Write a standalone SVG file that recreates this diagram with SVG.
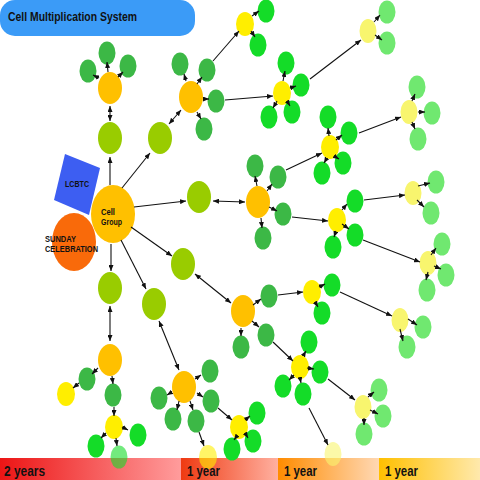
<svg xmlns="http://www.w3.org/2000/svg" width="480" height="480" viewBox="0 0 480 480">
<style>
.t{font-family:"Liberation Sans",Arial,sans-serif;font-weight:bold;fill:#111}
.cg{fill:#ffc000}
.sun{fill:#f96a0a}
.lc{fill:#3d5ef2}
.a{fill:#99cc00}
.b{fill:#ffc000}
.g1{fill:#3cb846}
.y{fill:#ffee00}
.g2{fill:#14dc28}
.d{fill:#f8f56e}
.g3{fill:#70e870}
.fade{opacity:.6}
#connectors line{stroke:#111;stroke-width:1.1;marker-end:url(#ah)}
#connectors line.bi{marker-start:url(#ahs)}
</style>
<defs>
<marker id="ah" markerUnits="userSpaceOnUse" markerWidth="6" markerHeight="5" refX="6" refY="2.5" orient="auto"><path d="M0,0L6,2.5L0,5z" fill="#111"/></marker>
<marker id="ahs" markerUnits="userSpaceOnUse" markerWidth="6" markerHeight="5" refX="6" refY="2.5" orient="auto-start-reverse"><path d="M0,0L6,2.5L0,5z" fill="#111"/></marker>
<linearGradient id="s1" x1="0" x2="1" y1="0" y2="0"><stop offset="0" stop-color="#ec1515"/><stop offset="1" stop-color="#ff9c9c"/></linearGradient>
<linearGradient id="s2" x1="0" x2="1" y1="0" y2="0"><stop offset="0" stop-color="#ef3a12"/><stop offset="1" stop-color="#ffb0a0"/></linearGradient>
<linearGradient id="s3" x1="0" x2="1" y1="0" y2="0"><stop offset="0" stop-color="#ff8c00"/><stop offset="1" stop-color="#ffd8b4"/></linearGradient>
<linearGradient id="s4" x1="0" x2="1" y1="0" y2="0"><stop offset="0" stop-color="#ffc000"/><stop offset="1" stop-color="#ffe9ac"/></linearGradient>
</defs>
<rect width="480" height="480" fill="#fff"/>

<g id="timeline">
<rect x="0" y="458" width="181" height="22" fill="url(#s1)"/>
<rect x="181" y="458" width="97" height="22" fill="url(#s2)"/>
<rect x="278" y="458" width="101" height="22" fill="url(#s3)"/>
<rect x="379" y="458" width="101" height="22" fill="url(#s4)"/>
</g>

<g id="title"><rect x="0" y="0" width="195" height="36" rx="15" fill="#3b9bf7"/><text class="t" x="8" y="21" font-size="13" textLength="129" lengthAdjust="spacingAndGlyphs">Cell Multiplication System</text></g>

<g id="lcbtc"><polygon class="lc" points="65,154 100,168 89,215 54,200"/><text class="t" x="65" y="187" font-size="8.5" textLength="24" lengthAdjust="spacingAndGlyphs">LCBTC</text></g>
<g id="cellgroup"><ellipse class="cg" cx="113" cy="214" rx="22" ry="29"/><text class="t" x="101" y="215" font-size="9.5" textLength="14" lengthAdjust="spacingAndGlyphs">Cell</text><text class="t" x="101" y="225" font-size="9.5" textLength="21" lengthAdjust="spacingAndGlyphs">Group</text></g>
<g id="sunday"><ellipse class="sun" cx="74" cy="242" rx="22" ry="29"/><text class="t" x="45" y="241.5" font-size="8.5" textLength="31" lengthAdjust="spacingAndGlyphs">SUNDAY</text><text class="t" x="45" y="251.5" font-size="8.5" textLength="53" lengthAdjust="spacingAndGlyphs">CELEBRATION</text></g>

<g id="a1"><ellipse class="a" cx="110" cy="138" rx="12" ry="16"/></g>
<g id="a2"><ellipse class="a" cx="160" cy="138" rx="12" ry="16"/></g>
<g id="a3"><ellipse class="a" cx="199" cy="197" rx="12" ry="16"/></g>
<g id="a4"><ellipse class="a" cx="183" cy="264" rx="12" ry="16"/></g>
<g id="a5"><ellipse class="a" cx="110" cy="288" rx="12" ry="16"/></g>
<g id="a6"><ellipse class="a" cx="154" cy="304" rx="12" ry="16"/></g>

<g id="b1"><ellipse class="b" cx="110" cy="88" rx="12" ry="16"/></g>
<g id="b2"><ellipse class="b" cx="191" cy="97" rx="12" ry="16"/></g>
<g id="b3"><ellipse class="b" cx="258" cy="202" rx="12" ry="16"/></g>
<g id="b4"><ellipse class="b" cx="243" cy="311" rx="12" ry="16"/></g>
<g id="b5"><ellipse class="b" cx="110" cy="360" rx="12" ry="16"/></g>
<g id="b6"><ellipse class="b" cx="184" cy="387" rx="12" ry="16"/></g>

<g id="b1l1"><ellipse class="g1" cx="107" cy="53" rx="8.5" ry="11.5"/></g>
<g id="b1l2"><ellipse class="g1" cx="88" cy="71" rx="8.5" ry="11.5"/></g>
<g id="b1l3"><ellipse class="g1" cx="128" cy="66" rx="8.5" ry="11.5"/></g>
<g id="b2l1"><ellipse class="g1" cx="180" cy="64" rx="8.5" ry="11.5"/></g>
<g id="b2l2"><ellipse class="g1" cx="207" cy="70" rx="8.5" ry="11.5"/></g>
<g id="b2l3"><ellipse class="g1" cx="216" cy="101" rx="8.5" ry="11.5"/></g>
<g id="b2l4"><ellipse class="g1" cx="204" cy="129" rx="8.5" ry="11.5"/></g>
<g id="b3l1"><ellipse class="g1" cx="255" cy="166" rx="8.5" ry="11.5"/></g>
<g id="b3l2"><ellipse class="g1" cx="278" cy="177" rx="8.5" ry="11.5"/></g>
<g id="b3l3"><ellipse class="g1" cx="283" cy="214" rx="8.5" ry="11.5"/></g>
<g id="b3l4"><ellipse class="g1" cx="263" cy="238" rx="8.5" ry="11.5"/></g>
<g id="b4l1"><ellipse class="g1" cx="269" cy="296" rx="8.5" ry="11.5"/></g>
<g id="b4l2"><ellipse class="g1" cx="266" cy="335" rx="8.5" ry="11.5"/></g>
<g id="b4l3"><ellipse class="g1" cx="241" cy="347" rx="8.5" ry="11.5"/></g>
<g id="b5l1"><ellipse class="g1" cx="87" cy="379" rx="8.5" ry="11.5"/></g>
<g id="b5l2"><ellipse class="g1" cx="113" cy="395" rx="8.5" ry="11.5"/></g>
<g id="b6l1"><ellipse class="g1" cx="210" cy="371" rx="8.5" ry="11.5"/></g>
<g id="b6l2"><ellipse class="g1" cx="211" cy="401" rx="8.5" ry="11.5"/></g>
<g id="b6l3"><ellipse class="g1" cx="196" cy="421" rx="8.5" ry="11.5"/></g>
<g id="b6l4"><ellipse class="g1" cx="173" cy="419" rx="8.5" ry="11.5"/></g>
<g id="b6l5"><ellipse class="g1" cx="159" cy="398" rx="8.5" ry="11.5"/></g>

<g id="y1"><ellipse class="y" cx="245" cy="24" rx="9" ry="12"/></g>
<g id="y2"><ellipse class="y" cx="282" cy="93" rx="9" ry="12"/></g>
<g id="y3"><ellipse class="y" cx="330" cy="147" rx="9" ry="12"/></g>
<g id="y4"><ellipse class="y" cx="337" cy="220" rx="9" ry="12"/></g>
<g id="y5"><ellipse class="y" cx="312" cy="292" rx="9" ry="12"/></g>
<g id="y6"><ellipse class="y" cx="300" cy="367" rx="9" ry="12"/></g>
<g id="y7"><ellipse class="y" cx="66" cy="394" rx="9" ry="12"/></g>
<g id="y8"><ellipse class="y" cx="114" cy="427" rx="9" ry="12"/></g>
<g id="y9"><ellipse class="y" cx="239" cy="427" rx="9" ry="12"/></g>
<g id="y10" class="fade"><ellipse class="y" cx="208" cy="457" rx="9" ry="12"/></g>

<g id="y1l1"><ellipse class="g2" cx="266" cy="11" rx="8.5" ry="11.5"/></g>
<g id="y1l2"><ellipse class="g2" cx="258" cy="45" rx="8.5" ry="11.5"/></g>
<g id="y2l1"><ellipse class="g2" cx="286" cy="63" rx="8.5" ry="11.5"/></g>
<g id="y2l2"><ellipse class="g2" cx="301" cy="85" rx="8.5" ry="11.5"/></g>
<g id="y2l3"><ellipse class="g2" cx="269" cy="117" rx="8.5" ry="11.5"/></g>
<g id="y2l4"><ellipse class="g2" cx="292" cy="112" rx="8.5" ry="11.5"/></g>
<g id="y3l1"><ellipse class="g2" cx="328" cy="117" rx="8.5" ry="11.5"/></g>
<g id="y3l2"><ellipse class="g2" cx="349" cy="133" rx="8.5" ry="11.5"/></g>
<g id="y3l3"><ellipse class="g2" cx="343" cy="163" rx="8.5" ry="11.5"/></g>
<g id="y3l4"><ellipse class="g2" cx="322" cy="173" rx="8.5" ry="11.5"/></g>
<g id="y4l1"><ellipse class="g2" cx="355" cy="201" rx="8.5" ry="11.5"/></g>
<g id="y4l2"><ellipse class="g2" cx="355" cy="235" rx="8.5" ry="11.5"/></g>
<g id="y4l3"><ellipse class="g2" cx="333" cy="247" rx="8.5" ry="11.5"/></g>
<g id="y5l1"><ellipse class="g2" cx="332" cy="285" rx="8.5" ry="11.5"/></g>
<g id="y5l2"><ellipse class="g2" cx="322" cy="313" rx="8.5" ry="11.5"/></g>
<g id="y6l1"><ellipse class="g2" cx="309" cy="342" rx="8.5" ry="11.5"/></g>
<g id="y6l2"><ellipse class="g2" cx="320" cy="372" rx="8.5" ry="11.5"/></g>
<g id="y6l3"><ellipse class="g2" cx="283" cy="386" rx="8.5" ry="11.5"/></g>
<g id="y6l4"><ellipse class="g2" cx="303" cy="394" rx="8.5" ry="11.5"/></g>
<g id="y8l1"><ellipse class="g2" cx="96" cy="446" rx="8.5" ry="11.5"/></g>
<g id="y8l2" class="fade"><ellipse class="g2" cx="119" cy="457" rx="8.5" ry="11.5"/></g>
<g id="y8l3"><ellipse class="g2" cx="138" cy="435" rx="8.5" ry="11.5"/></g>
<g id="y9l1"><ellipse class="g2" cx="257" cy="413" rx="8.5" ry="11.5"/></g>
<g id="y9l2"><ellipse class="g2" cx="253" cy="441" rx="8.5" ry="11.5"/></g>
<g id="y9l3"><ellipse class="g2" cx="232" cy="449" rx="8.5" ry="11.5"/></g>

<g id="d1"><ellipse class="d" cx="368" cy="31" rx="8.5" ry="12"/></g>
<g id="d2"><ellipse class="d" cx="409" cy="112" rx="8.5" ry="12"/></g>
<g id="d3"><ellipse class="d" cx="413" cy="193" rx="8.5" ry="12"/></g>
<g id="d4"><ellipse class="d" cx="428" cy="263" rx="8.5" ry="12"/></g>
<g id="d5"><ellipse class="d" cx="400" cy="320" rx="8.5" ry="12"/></g>
<g id="d6"><ellipse class="d" cx="363" cy="407" rx="8.5" ry="12"/></g>
<g id="d7" class="fade"><ellipse class="d" cx="333" cy="454" rx="8.5" ry="12"/></g>

<g id="d1l1"><ellipse class="g3" cx="387" cy="12" rx="8.5" ry="11.5"/></g>
<g id="d1l2"><ellipse class="g3" cx="387" cy="43" rx="8.5" ry="11.5"/></g>
<g id="d2l1"><ellipse class="g3" cx="417" cy="87" rx="8.5" ry="11.5"/></g>
<g id="d2l2"><ellipse class="g3" cx="432" cy="113" rx="8.5" ry="11.5"/></g>
<g id="d2l3"><ellipse class="g3" cx="418" cy="139" rx="8.5" ry="11.5"/></g>
<g id="d3l1"><ellipse class="g3" cx="436" cy="182" rx="8.5" ry="11.5"/></g>
<g id="d3l2"><ellipse class="g3" cx="431" cy="213" rx="8.5" ry="11.5"/></g>
<g id="d4l1"><ellipse class="g3" cx="442" cy="244" rx="8.5" ry="11.5"/></g>
<g id="d4l2"><ellipse class="g3" cx="446" cy="275" rx="8.5" ry="11.5"/></g>
<g id="d4l3"><ellipse class="g3" cx="427" cy="290" rx="8.5" ry="11.5"/></g>
<g id="d5l1"><ellipse class="g3" cx="423" cy="327" rx="8.5" ry="11.5"/></g>
<g id="d5l2"><ellipse class="g3" cx="407" cy="347" rx="8.5" ry="11.5"/></g>
<g id="d6l1"><ellipse class="g3" cx="379" cy="390" rx="8.5" ry="11.5"/></g>
<g id="d6l2"><ellipse class="g3" cx="383" cy="416" rx="8.5" ry="11.5"/></g>
<g id="d6l3"><ellipse class="g3" cx="364" cy="434" rx="8.5" ry="11.5"/></g>

<g id="connectors">
<line x1="110" y1="185" x2="110" y2="157"/>
<line x1="122" y1="188" x2="150" y2="153"/>
<line x1="134" y1="207" x2="186" y2="201"/>
<line x1="131" y1="227" x2="172" y2="256"/>
<line x1="111" y1="244" x2="111" y2="271"/>
<line x1="121" y1="240" x2="146" y2="289"/>
<line class="bi" x1="110" y1="121" x2="110" y2="106"/>
<line class="bi" x1="169" y1="124" x2="181" y2="110"/>
<line class="bi" x1="213" y1="201" x2="245" y2="202"/>
<line class="bi" x1="195" y1="274" x2="231" y2="303"/>
<line class="bi" x1="110" y1="306" x2="110" y2="341"/>
<line class="bi" x1="159" y1="321" x2="179" y2="370"/>
<line x1="108" y1="72" x2="107" y2="62"/>
<line x1="99" y1="78" x2="93" y2="75"/>
<line x1="118" y1="77" x2="123" y2="72"/>
<line x1="186" y1="81" x2="184" y2="74"/>
<line x1="197" y1="84" x2="202" y2="77"/>
<line x1="203" y1="99" x2="209" y2="99"/>
<line x1="197" y1="112" x2="201" y2="119"/>
<line x1="257" y1="186" x2="255" y2="176"/>
<line x1="267" y1="191" x2="272" y2="184"/>
<line x1="269" y1="207" x2="277" y2="211"/>
<line x1="261" y1="218" x2="262" y2="228"/>
<line x1="253" y1="305" x2="261" y2="299"/>
<line x1="252" y1="321" x2="259" y2="327"/>
<line x1="241" y1="328" x2="241" y2="336"/>
<line x1="98" y1="368" x2="92" y2="374"/>
<line x1="112" y1="376" x2="113" y2="384"/>
<line x1="195" y1="379" x2="201" y2="375"/>
<line x1="197" y1="393" x2="203" y2="397"/>
<line x1="190" y1="401" x2="193" y2="410"/>
<line x1="179" y1="401" x2="177" y2="410"/>
<line x1="172" y1="392" x2="167" y2="395"/>
<line x1="213" y1="61" x2="239" y2="31"/>
<line x1="225" y1="100" x2="273" y2="96"/>
<line x1="286" y1="170" x2="322" y2="153"/>
<line x1="292" y1="217" x2="328" y2="221"/>
<line x1="278" y1="295" x2="303" y2="292"/>
<line x1="273" y1="342" x2="293" y2="361"/>
<line x1="79" y1="383" x2="73" y2="388"/>
<line x1="114" y1="407" x2="114" y2="416"/>
<line x1="218" y1="408" x2="232" y2="420"/>
<line x1="199" y1="432" x2="204" y2="446"/>
<line x1="252" y1="16" x2="259" y2="11"/>
<line x1="251" y1="31" x2="255" y2="37"/>
<line x1="283" y1="81" x2="285" y2="71"/>
<line x1="290" y1="88" x2="296" y2="86"/>
<line x1="277" y1="101" x2="273" y2="108"/>
<line x1="287" y1="101" x2="290" y2="106"/>
<line x1="329" y1="136" x2="328" y2="128"/>
<line x1="336" y1="140" x2="342" y2="135"/>
<line x1="334" y1="156" x2="339" y2="159"/>
<line x1="327" y1="158" x2="324" y2="163"/>
<line x1="342" y1="210" x2="347" y2="204"/>
<line x1="342" y1="224" x2="349" y2="229"/>
<line x1="336" y1="231" x2="334" y2="237"/>
<line x1="319" y1="287" x2="325" y2="284"/>
<line x1="315" y1="302" x2="318" y2="307"/>
<line x1="303" y1="356" x2="306" y2="351"/>
<line x1="307" y1="368" x2="314" y2="369"/>
<line x1="294" y1="375" x2="289" y2="380"/>
<line x1="300" y1="378" x2="301" y2="383"/>
<line x1="106" y1="433" x2="101" y2="438"/>
<line x1="116" y1="438" x2="117" y2="446"/>
<line x1="122" y1="427" x2="128" y2="430"/>
<line x1="245" y1="420" x2="250" y2="416"/>
<line x1="245" y1="433" x2="248" y2="438"/>
<line x1="237" y1="436" x2="234" y2="440"/>
<line x1="310" y1="79" x2="361" y2="40"/>
<line x1="359" y1="133" x2="401" y2="117"/>
<line x1="364" y1="200" x2="405" y2="195"/>
<line x1="363" y1="240" x2="420" y2="262"/>
<line x1="340" y1="292" x2="392" y2="316"/>
<line x1="328" y1="379" x2="355" y2="400"/>
<line x1="309" y1="408" x2="328" y2="445"/>
<line x1="374" y1="22" x2="380" y2="15"/>
<line x1="375" y1="35" x2="382" y2="40"/>
<line x1="412" y1="101" x2="415" y2="94"/>
<line x1="418" y1="112" x2="425" y2="112"/>
<line x1="412" y1="122" x2="415" y2="129"/>
<line x1="418" y1="186" x2="430" y2="183"/>
<line x1="417" y1="200" x2="424" y2="207"/>
<line x1="431" y1="255" x2="436" y2="248"/>
<line x1="434" y1="266" x2="441" y2="269"/>
<line x1="428" y1="272" x2="426" y2="280"/>
<line x1="408" y1="319" x2="417" y2="325"/>
<line x1="400" y1="329" x2="403" y2="341"/>
<line x1="368" y1="397" x2="374" y2="392"/>
<line x1="370" y1="410" x2="378" y2="414"/>
<line x1="364" y1="418" x2="364" y2="425"/>
</g>

<g id="timeline-labels">
<text class="t" x="4" y="476" font-size="15" textLength="41" lengthAdjust="spacingAndGlyphs">2 years</text>
<text class="t" x="187" y="476" font-size="15" textLength="33" lengthAdjust="spacingAndGlyphs">1 year</text>
<text class="t" x="284" y="476" font-size="15" textLength="33" lengthAdjust="spacingAndGlyphs">1 year</text>
<text class="t" x="385" y="476" font-size="15" textLength="33" lengthAdjust="spacingAndGlyphs">1 year</text>
</g>
</svg>
